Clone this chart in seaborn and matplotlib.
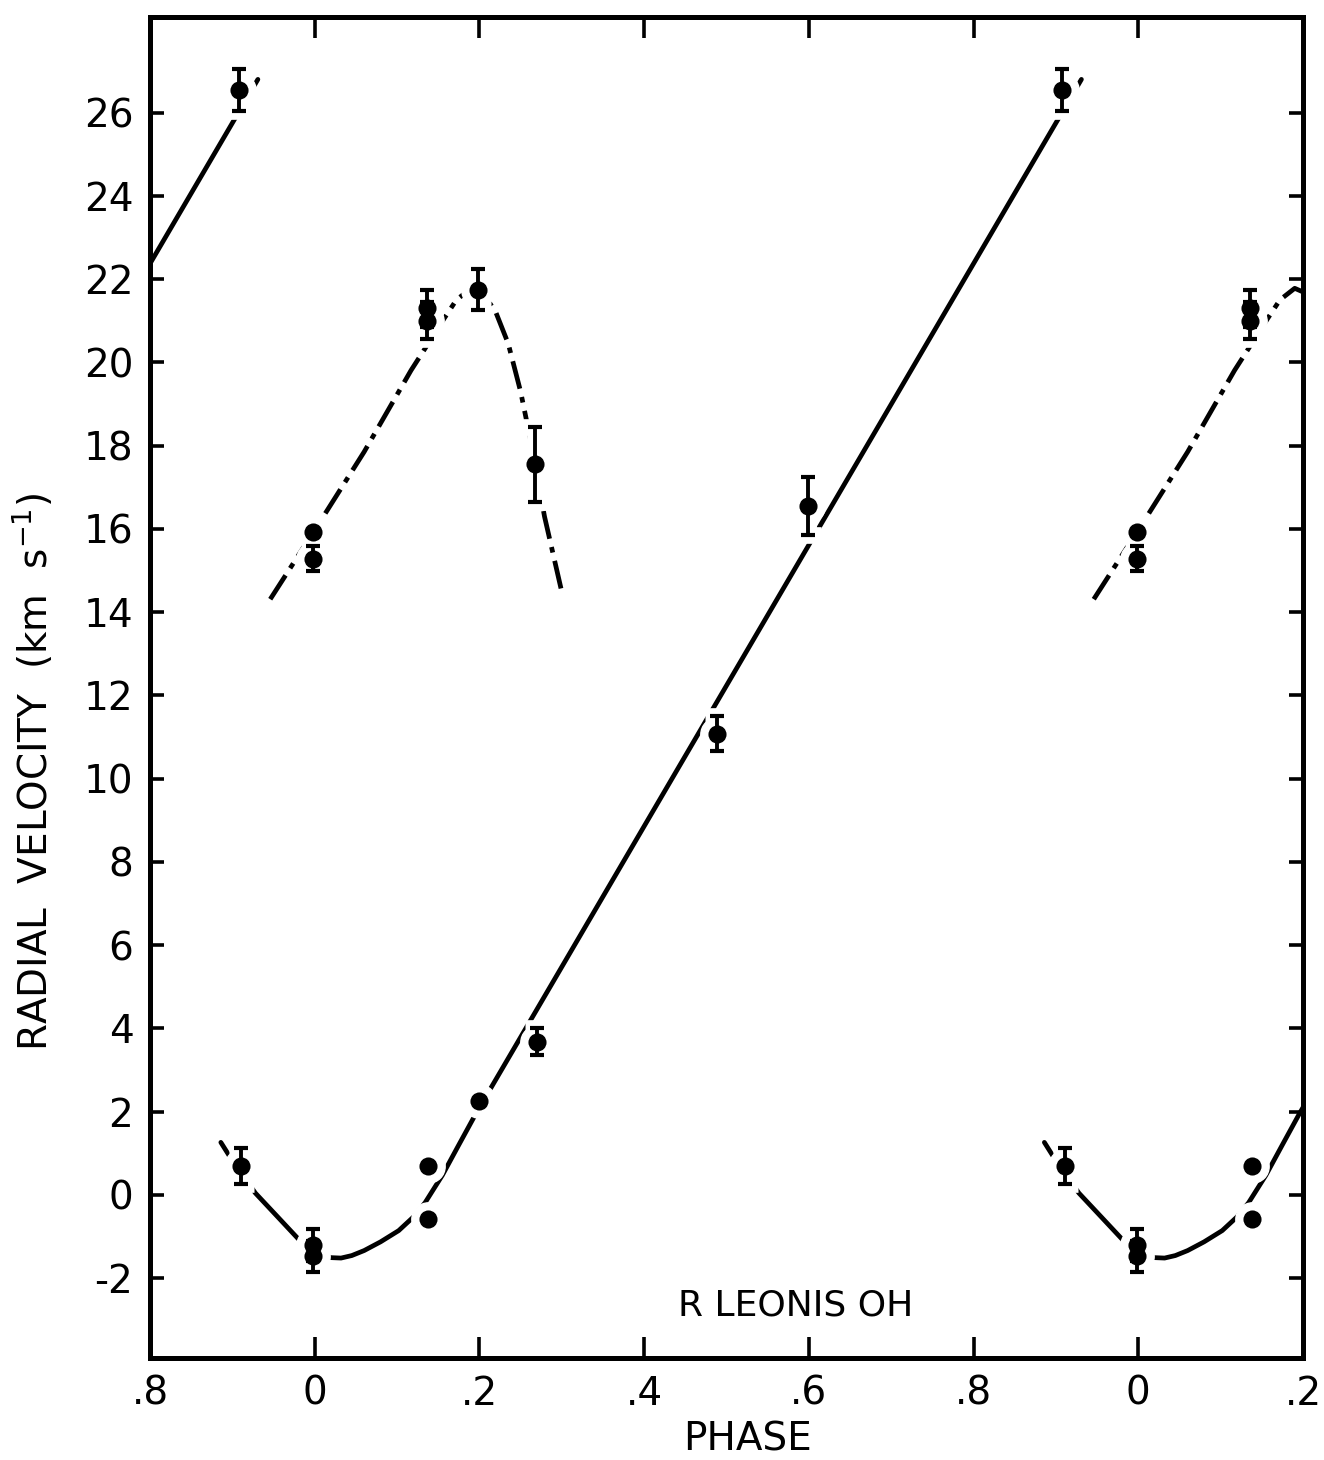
import matplotlib
matplotlib.use("Agg")
import matplotlib.pyplot as plt
import numpy as np
import seaborn as sns

# observed velocities, solid-curve group (phase, km/s, error)
phase_lo = [0.911, 0.998, 0.998, 0.138, 0.138, 0.200, 0.270, 0.488, 0.599, 0.908]
vel_lo = [0.70, -1.20, -1.48, 0.68, -0.58, 2.25, 3.68, 11.08, 16.55, 26.55]
err_lo = [0.43, 0.38, 0.38, 0.0, 0.0, 0.0, 0.33, 0.42, 0.69, 0.50]

# observed velocities, dash-dot group
phase_hi = [0.998, 0.998, 0.136, 0.136, 0.198, 0.267]
vel_hi = [15.92, 15.28, 21.30, 21.00, 21.75, 17.55]
err_hi = [0.0, 0.30, 0.45, 0.45, 0.50, 0.90]

# hand-drawn curves
curve_lo_phase = [-0.114, -0.100, -0.072, -0.045, -0.019, -0.005, 0.008, 0.020,
                  0.032, 0.045, 0.060, 0.080, 0.102, 0.120, 0.134, 0.155,
                  0.175, 0.196, 0.931]
curve_lo_vel = [1.26, 0.82, 0.04, -0.53, -1.08, -1.30, -1.44, -1.51,
                -1.52, -1.46, -1.34, -1.13, -0.86, -0.53, -0.19, 0.47,
                1.20, 1.96, 26.80]

curve_hi_phase = [-0.054, 0.008, 0.060, 0.117, 0.141, 0.157, 0.172, 0.190,
                  0.205, 0.220, 0.235, 0.250, 0.264, 0.279, 0.301]
curve_hi_vel = [14.31, 16.22, 17.85, 19.81, 20.55, 21.05, 21.50, 21.78,
                21.65, 21.20, 20.45, 19.30, 17.95, 16.30, 14.40]

phase_ticks = [-0.2, 0.0, 0.2, 0.4, 0.6, 0.8, 1.0, 1.2]
phase_labels = ['.8', '0', '.2', '.4', '.6', '.8', '0', '.2']
vel_ticks = list(range(-2, 27, 2))

XMIN, XMAX = -0.2, 1.2
YMIN, YMAX = -3.92, 28.3


def copies(phases, vals, errs):
    """Repeat the points one cycle either side, keep those inside the plot."""
    xs, ys, es = [], [], []
    for p, v, e in zip(phases, vals, errs):
        for k in (-1, 0, 1):
            x = p + k
            if XMIN < x < XMAX - 0.01:
                xs.append(x)
                ys.append(v)
                es.append(e)
    return np.array(xs), np.array(ys), np.array(es)


def draw_curve(ax, phases, vals, **kw):
    for k in (-1, 0, 1):
        sns.lineplot(x=np.array(phases) + k, y=vals, ax=ax, color='black',
                     sort=False, estimator=None, zorder=1, **kw)


def draw_points(ax, xs, ys, es):
    # white halo that breaks the curves around each point
    ax.errorbar(xs, ys, yerr=np.where(es > 0, es, np.nan), fmt='o', ms=24,
                color='white', mec='white', elinewidth=12, capsize=9,
                capthick=12, zorder=2.2)
    has = es > 0
    ax.errorbar(xs[has], ys[has], yerr=es[has], fmt='none', ecolor='black',
                elinewidth=2.8, capsize=5, capthick=3.0, zorder=3)
    sns.scatterplot(x=xs, y=ys, ax=ax, color='black', s=170, edgecolor='black',
                    linewidth=0, zorder=3.1)


def main():
    sns.set_theme(style='white')
    plt.rcParams['font.family'] = ['DejaVu Sans']
    plt.rcParams['mathtext.fontset'] = 'dejavusans'

    fig = plt.figure(figsize=(13.24, 14.6), dpi=100)
    ax = fig.add_axes([0.1133, 0.0699, 0.8708, 0.9185])

    draw_curve(ax, curve_lo_phase, curve_lo_vel, linewidth=3.4)
    draw_curve(ax, curve_hi_phase, curve_hi_vel, linewidth=3.4,
               linestyle=(0, (6, 1.8, 1.2, 1.8)))

    draw_points(ax, *copies(phase_lo, vel_lo, err_lo))
    draw_points(ax, *copies(phase_hi, vel_hi, err_hi))

    ax.text(0.584, -2.65, 'R LEONIS OH', fontsize=26, ha='center',
            va='center', color='black')

    ax.set_xlim(XMIN, XMAX)
    ax.set_ylim(YMIN, YMAX)
    ax.set_xticks(phase_ticks, phase_labels)
    ax.set_yticks(vel_ticks, [str(v) for v in vel_ticks])

    ax.tick_params(axis='x', direction='in', top=True, bottom=True,
                   length=15, width=2.6, pad=12, labelsize=28,
                   colors='black')
    ax.tick_params(axis='y', direction='in', left=True, right=True,
                   length=10, width=2.6, pad=12, labelsize=28,
                   colors='black')
    for sp in ax.spines.values():
        sp.set_visible(True)
        sp.set_linewidth(3.6)
        sp.set_color('black')

    ax.set_xlabel('PHASE', fontsize=28, color='black')
    ax.set_ylabel('RADIAL  VELOCITY  (km  s$^{-1}$)', fontsize=28,
                  color='black')
    ax.xaxis.set_label_coords(0.518, -0.047)
    ax.yaxis.set_label_coords(-0.082, 0.437)
    ax.grid(False)

    fig.savefig('out.png', dpi=100, facecolor='white')
    plt.close(fig)


if __name__ == '__main__':
    main()
